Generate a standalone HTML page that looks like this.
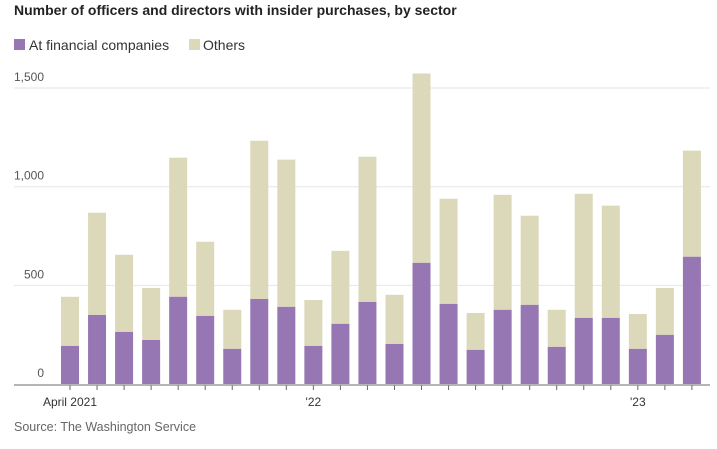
<!DOCTYPE html>
<html><head><meta charset="utf-8"><style>
body{margin:0;background:#fff;width:717px;height:444px;overflow:hidden;font-family:"Liberation Sans",sans-serif}
</style></head><body>
<svg width="717" height="444">
<text x="14" y="15" font-size="14" font-weight="bold" fill="#222">Number of officers and directors with insider purchases, by sector</text>
<g>
<rect x="14" y="39" width="11" height="11" fill="#9777b3"/>
<text x="29" y="50" font-size="14" fill="#333">At financial companies</text>
<rect x="189" y="39" width="11" height="11" fill="#dcd9bb"/>
<text x="203" y="50" font-size="14" fill="#333">Others</text>
</g>
<g id="grid"></g><g id="bars"></g><g id="axis"></g>
<text x="14" y="431" font-size="12.5" fill="#666">Source: The Washington Service</text>
</svg>
<script>
const categories=["Apr21","May21","Jun21","Jul21","Aug21","Sep21","Oct21","Nov21","Dec21","Jan22","Feb22","Mar22","Apr22","May22","Jun22","Jul22","Aug22","Sep22","Oct22","Nov22","Dec22","Jan23","Feb23","Mar23"];
const financial=[193,350,264,223,442,345,178,431,391,193,305,416,203,614,406,173,376,401,188,335,335,178,249,645];
const totals=[442,868,655,487,1147,721,376,1233,1137,426,675,1152,452,1574,939,360,959,853,376,964,904,355,487,1183];
const yTicks=[0,500,1000,1500];
const yTickLabels=["0","500","1,000","1,500"];
const xLabels=[[0,"April 2021"],[9,"'22"],[21,"'23"]];
const NS="http://www.w3.org/2000/svg";
const y=v=>384-v*0.1973;
const xc=i=>70+i*27.04;
function mk(p,t,a){const e=document.createElementNS(NS,t);for(const k in a)e.setAttribute(k,a[k]);p.appendChild(e);return e;}
const grid=document.getElementById('grid'),bars=document.getElementById('bars'),axis=document.getElementById('axis');
yTicks.forEach((v,i)=>{
 if(v>0){const l=mk(grid,'line',{x1:14,x2:710,y1:y(v),y2:y(v),stroke:'#e6e6e6','stroke-width':1});
 
 }
 const t=mk(grid,'text',{x:44,y:y(v)-7,'text-anchor':'end','font-size':12,fill:'#555'});
 t.textContent=yTickLabels[i];
 
 
});
categories.forEach((c,i)=>{
 const w=18,x0=xc(i)-w/2;
 const o=mk(bars,'rect',{x:x0,y:y(totals[i]),width:w,height:y(financial[i])-y(totals[i]),fill:'#dcd9bb'});
 
 
 const f=mk(bars,'rect',{x:x0,y:y(financial[i]),width:w,height:384-y(financial[i]),fill:'#9777b3'});
 
 
 const tk=mk(axis,'line',{x1:xc(i),x2:xc(i),y1:385,y2:390,stroke:'#666'});
 
 
});
const ax=mk(axis,'line',{x1:14,x2:710,y1:385,y2:385,stroke:'#888','stroke-width':1.2});


xLabels.forEach(([i,s])=>{
 const t=mk(axis,'text',{x:xc(i),y:406,'text-anchor':'middle','font-size':12,fill:'#333'});
 t.textContent=s;
 
 
});
</script>
</body></html>
